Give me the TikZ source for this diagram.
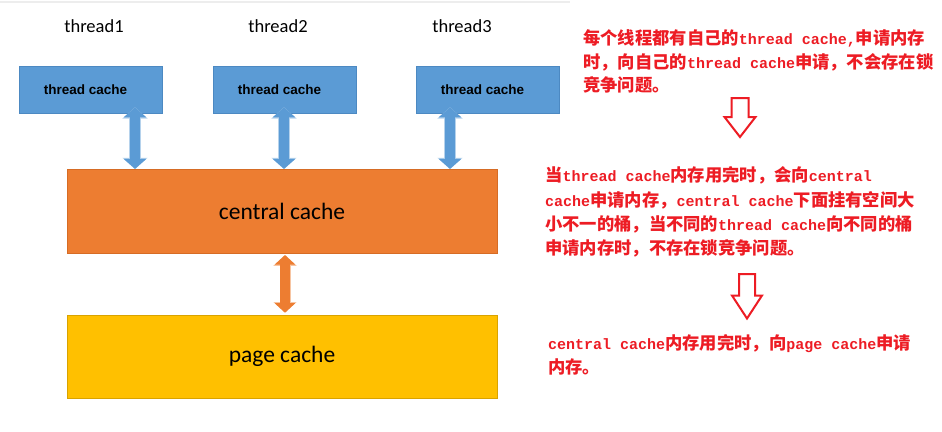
\documentclass[tikz,border=0pt]{standalone}
\usepackage{fontspec}
\setmainfont{Carlito}
\newfontfamily\tcfont{Liberation Sans}
\newfontfamily\cjkfont{Noto Sans CJK SC}
\newfontfamily\monoen{Liberation Mono}
\usetikzlibrary{arrows.meta}
\definecolor{tcblue}{HTML}{5B9BD5}
\definecolor{tcborder}{HTML}{4C89C2}
\definecolor{ccorange}{HTML}{ED7D31}
\definecolor{ccborder}{HTML}{D66C25}
\definecolor{pcyellow}{HTML}{FFC000}
\definecolor{pcborder}{HTML}{D9A300}
\definecolor{notered}{HTML}{ED1C24}
\newcommand\zh[1]{{\cjkfont\bfseries\fontsize{17.3}{24}\selectfont #1}}
\newcommand\en[1]{{\monoen\bfseries\fontsize{15}{24}\selectfont #1}}
\tikzset{
  tcbox/.style={draw=tcborder, fill=tcblue, minimum width=143pt, minimum height=47pt, inner sep=0pt, line width=0.6pt,
    font=\tcfont\bfseries\fontsize{13.5}{16}\selectfont},
  thlabel/.style={font=\fontsize{18.5}{22}\selectfont, inner sep=0pt},
  bigbox/.style={minimum width=430pt, inner sep=0pt, line width=0.6pt, font=\fontsize{23.5}{28}\selectfont},
  barrow/.style={line width=10pt, draw=tcblue,
    {Triangle[width=22pt,length=10pt]}-{Triangle[width=22pt,length=10pt]},
    preaction={draw=tcblue!45!white, line width=11.6pt,
      arrows={Triangle[width=24.5pt,length=11.2pt]-Triangle[width=24.5pt,length=11.2pt]}}},
  oarrow/.style={line width=9.5pt, draw=ccorange,
    {Triangle[width=20pt,length=9.5pt]}-{Triangle[width=20pt,length=9.5pt]},
    preaction={draw=ccorange!45!white, line width=11pt,
      arrows={Triangle[width=22.5pt,length=10.7pt]-Triangle[width=22.5pt,length=10.7pt]}}},
  note/.style={anchor=base west, inner sep=0pt, text=notered},
  hollow/.style={draw=notered, fill=white, line width=2pt, line join=miter}
}
\begin{document}
\begin{tikzpicture}[x=1pt,y=-1pt]
\fill[white] (0,0) rectangle (942,431);
\useasboundingbox (0,0) rectangle (942,431);
\draw[black!7, line width=2pt] (0,2) -- (570,2);

% thread labels
\node[thlabel] (th1) at (94,26) {thread1};
\node[thlabel] (th2) at (278,26) {thread2};
\node[thlabel] (th3) at (462,26) {thread3};

% thread caches
\node[tcbox] (tc1) at (90.5,89.5) {thread cache\kern10pt};
\node[tcbox] (tc2) at (284.5,89.5) {thread cache\kern10pt};
\node[tcbox] (tc3) at (487.5,89.5) {thread cache\kern10pt};

% central and page cache
\node[bigbox, draw=ccborder, fill=ccorange, minimum height=84.5pt] (cc) at (282,211.5) {central cache};
\node[bigbox, draw=pcborder, fill=pcyellow, minimum height=83pt] (pc) at (282,356.5) {page cache};

% connectors
\coordinate (a1) at (135,0);
\coordinate (a2) at (284,0);
\coordinate (a3) at (450,0);
\coordinate (a4) at (285,0);
\draw[barrow, shorten <=-6pt] (tc1.south -| a1) -- (cc.north -| a1);
\draw[barrow, shorten <=-6pt] (tc2.south -| a2) -- (cc.north -| a2);
\draw[barrow, shorten <=-6pt] (tc3.south -| a3) -- (cc.north -| a3);
\draw[oarrow, shorten <=1pt, shorten >=2pt] (cc.south -| a4) -- (pc.north -| a4);

% notes
\node[note] (n1a) at (583,44.5) {\zh{每个线程都有自己的}\en{thread cache,}\zh{申请内存}};
\node[note] (n1b) at (583,68) {\zh{时，向自己的}\en{thread cache}\zh{申请，不会存在锁}};
\node[note] (n1c) at (583,91.5) {\zh{竞争问题。}};

\node[note] (n2a) at (545,181.5) {\zh{当}\en{thread cache}\zh{内存用完时，会向}\en{central}};
\node[note] (n2b) at (545,206) {\en{cache}\zh{申请内存，}\en{central cache}\zh{下面挂有空间大}};
\node[note] (n2c) at (545,230) {\zh{小不一的桶，当不同的}\en{thread cache}\zh{向不同的桶}};
\node[note] (n2d) at (545,254) {\zh{申请内存时，不存在锁竞争问题。}};

\node[note] (n3a) at (548,349.5) {\en{central cache}\zh{内存用完时，向}\en{page cache}\zh{申请}};
\node[note] (n3b) at (548,373.5) {\zh{内存。}};

% hollow arrows
\draw[hollow] (731.5,98) -- (748.5,98) -- (748.5,117) -- (755.5,117) -- (740,137) -- (724.5,117) -- (731.5,117) -- cycle;
\draw[hollow] (739,274) -- (755,274) -- (755,295.5) -- (762,295.5) -- (747,318.5) -- (732,295.5) -- (739,295.5) -- cycle;
\end{tikzpicture}
\end{document}
